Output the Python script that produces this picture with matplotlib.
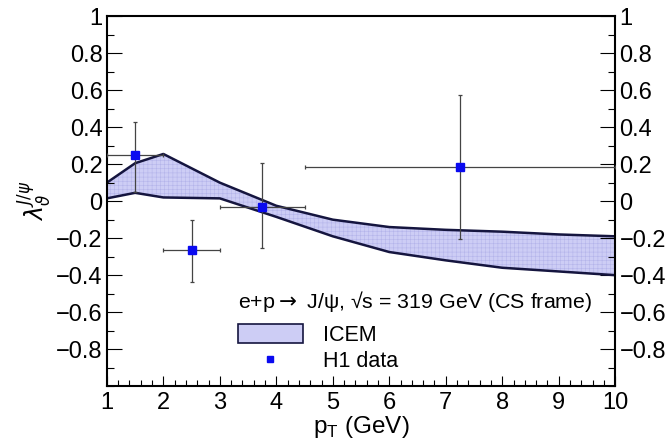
#!/usr/bin/env python3
"""
J/psi polarization lambda_theta vs pT: ICEM band against H1 data
"""

import matplotlib
matplotlib.use('Agg')
import matplotlib.pyplot as plt
from matplotlib.patches import Patch
from matplotlib.lines import Line2D
from matplotlib.ticker import MultipleLocator

plt.rcParams['font.family'] = ['Liberation Sans', 'DejaVu Sans']
plt.rcParams['mathtext.fontset'] = 'dejavusans'
plt.rcParams['axes.unicode_minus'] = True
plt.rcParams['hatch.linewidth'] = 0.4

# ICEM band (upper / lower edge)
band_pt = [1, 1.5, 2, 3, 4, 5, 6, 7, 8, 9, 10]
band_hi = [0.10, 0.205, 0.255, 0.10, -0.025, -0.10, -0.14, -0.155, -0.165, -0.18, -0.19]
band_lo = [0.015, 0.045, 0.02, 0.015, -0.085, -0.19, -0.275, -0.32, -0.36, -0.38, -0.40]

# H1 data points
h1_pt = [1.5, 2.5, 3.75, 7.25]
h1_lam = [0.25, -0.265, -0.03, 0.185]
h1_pt_lo = [1.0, 2.0, 3.0, 4.5]
h1_pt_hi = [2.0, 3.0, 4.5, 10.0]
h1_lam_lo = [0.05, -0.435, -0.255, -0.205]
h1_lam_hi = [0.43, -0.10, 0.205, 0.575]

band_face = '#cdcdf5'
band_hatch = '#b4b4ea'
band_edge = '#15153f'

fig = plt.figure(figsize=(6.68, 4.48), dpi=100)
ax = fig.add_axes([0.160, 0.138, 0.761, 0.826])

# Band
ax.fill_between(band_pt, band_lo, band_hi, facecolor=band_face, edgecolor=band_hatch,
                hatch='++++', linewidth=0)
ax.plot(band_pt, band_hi, color=band_edge, linewidth=1.8)
ax.plot(band_pt, band_lo, color=band_edge, linewidth=1.8)

# Data
xerr = [[c - l for c, l in zip(h1_pt, h1_pt_lo)], [h - c for c, h in zip(h1_pt, h1_pt_hi)]]
yerr = [[c - l for c, l in zip(h1_lam, h1_lam_lo)], [h - c for c, h in zip(h1_lam, h1_lam_hi)]]
ax.errorbar(h1_pt, h1_lam, xerr=xerr, yerr=yerr, fmt='none', ecolor='#444444',
            elinewidth=0.9, capsize=1.2, capthick=0.9, zorder=3)
ax.plot(h1_pt, h1_lam, 's', color='#0a0af0', markersize=5.5, zorder=4)

ax.set_xlim(1, 10)
ax.set_ylim(-1, 1)
ax.xaxis.set_major_locator(MultipleLocator(1))
ax.xaxis.set_minor_locator(MultipleLocator(0.2))
ax.yaxis.set_minor_locator(MultipleLocator(0.1))
ax.set_yticks([-0.8, -0.6, -0.4, -0.2, 0, 0.2, 0.4, 0.6, 0.8, 1])

ax.yaxis.set_major_formatter(plt.FuncFormatter(
    lambda v, p: '0' if abs(v) < 1e-9 else ('1' if abs(v - 1) < 1e-9 else f'{v:.1f}'.replace('-', '\u2212'))))

for s in ax.spines.values():
    s.set_linewidth(1.5)

ax.tick_params(axis='both', which='both', direction='in', top=False, right=True,
               labelright=True, labelsize=17, width=0.8, pad=3)
ax.tick_params(axis='y', which='major', length=11)
ax.tick_params(axis='y', which='minor', length=5)
ax.tick_params(axis='x', which='major', length=7, pad=4)
ax.tick_params(axis='x', which='minor', length=4)

ax.set_xlabel(r'p$_\mathregular{T}$ (GeV)', fontsize=17.5, labelpad=0)
ax.set_ylabel(r'$\lambda_{\vartheta}^{J/\psi}$', fontsize=17, rotation=90)
ax.yaxis.set_label_coords(-0.105, 0.5)

handles = [Patch(facecolor=band_face, edgecolor=band_edge, linewidth=1.2),
           Line2D([], [], marker='s', color='#0a0af0', linestyle='none', markersize=4)]
leg = ax.legend(handles, ['ICEM', 'H1 data'],
                title='e+p$\\rightarrow$ J/\u03c8, \u221as = 319 GeV (CS frame)',
                title_fontsize=15.4, fontsize=15.5, frameon=False, alignment='left',
                loc='upper left', bbox_to_anchor=(0.258, 0.262), borderpad=0,
                handlelength=3.0, handleheight=0.95, handletextpad=0.95,
                labelspacing=0.22, borderaxespad=0)
leg._legend_box.sep = 7

fig.savefig('out.png', dpi=100)
